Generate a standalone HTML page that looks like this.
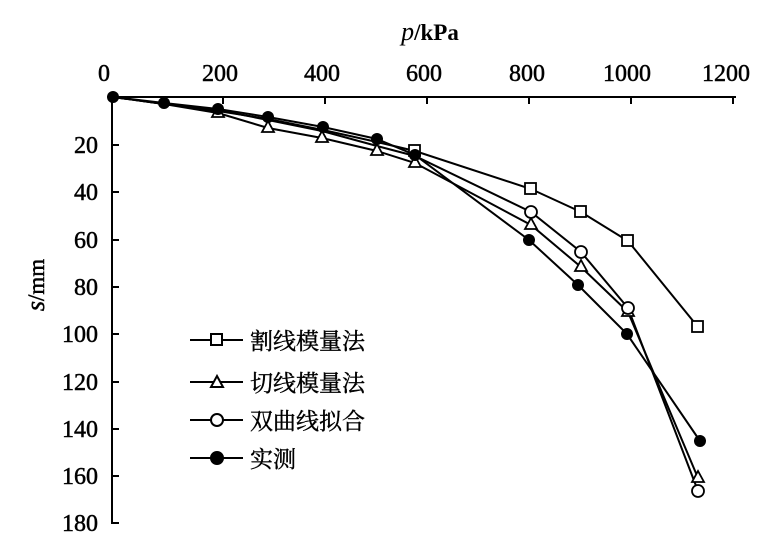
<!DOCTYPE html>
<html><head><meta charset="utf-8"><style>body{margin:0;background:#fff}svg{display:block}</style></head><body>
<svg width="773" height="539" xmlns="http://www.w3.org/2000/svg" font-family="Liberation Serif, serif">
<g stroke="#000" stroke-width="2" fill="none">
<line x1="112" y1="97" x2="736" y2="97"/>
<line x1="112" y1="97" x2="112" y2="524"/>
<line x1="223" y1="97" x2="223" y2="104"/><line x1="325" y1="97" x2="325" y2="104"/><line x1="427" y1="97" x2="427" y2="104"/><line x1="529" y1="97" x2="529" y2="104"/><line x1="631" y1="97" x2="631" y2="104"/><line x1="733" y1="97" x2="733" y2="104"/>
<line x1="112" y1="145" x2="119" y2="145"/><line x1="112" y1="192" x2="119" y2="192"/><line x1="112" y1="240" x2="119" y2="240"/><line x1="112" y1="287" x2="119" y2="287"/><line x1="112" y1="334" x2="119" y2="334"/><line x1="112" y1="382" x2="119" y2="382"/><line x1="112" y1="429" x2="119" y2="429"/><line x1="112" y1="476" x2="119" y2="476"/><line x1="112" y1="523" x2="119" y2="523"/>
</g>
<g font-size="24" text-anchor="middle" stroke="#000" stroke-width="0.5">
<text x="104" y="81">0</text><text x="220" y="81">200</text><text x="322" y="81">400</text><text x="424" y="81">600</text><text x="527" y="81">800</text><text x="627" y="81">1000</text><text x="726" y="81">1200</text>
</g>
<g font-size="24" text-anchor="end" stroke="#000" stroke-width="0.5">
<text x="98" y="153">20</text><text x="98" y="200">40</text><text x="98" y="248">60</text><text x="98" y="295">80</text><text x="98" y="342">100</text><text x="98" y="390">120</text><text x="98" y="437">140</text><text x="98" y="484">160</text><text x="98" y="531">180</text>
</g>
<text x="430" y="40" font-size="23" font-weight="bold" text-anchor="middle"><tspan font-style="italic" font-weight="normal" font-size="26">p</tspan>/kPa</text>
<text transform="translate(44,285) rotate(-90)" font-size="23" text-anchor="middle" stroke="#000" stroke-width="0.5"><tspan font-style="italic" font-size="26">s</tspan>/mm</text>
<g stroke="#000" stroke-width="2" fill="none">
<polyline points="113,97 164,104 218,111 268,119 323,130 377,142 415,151 531,189 581,212 628,241 698,327"/>
<polyline points="113,97 164,104 218,113 268,128 322,138 377,151 415,163 531,225 581,267 628,312 698,478"/>
<polyline points="113,97 164,104 218,110 268,120 322,131 377,146 415,156 531,212 581,252 628,308 698,491"/>
<polyline points="113,97 164,103 218,109 268,117 323,127 377,139 415,155 529,240 578,285 627,334 700,441"/>
</g>
<g stroke="#000" stroke-width="1.8" fill="#fff">
<rect x="409" y="145" width="11" height="11"/><rect x="525" y="183" width="11" height="11"/><rect x="575" y="206" width="11" height="11"/><rect x="622" y="235" width="11" height="11"/><rect x="692" y="321" width="11" height="11"/>
<polygon points="218,106 212,117 224,117"/><polygon points="268,121 262,132 274,132"/><polygon points="322,131 316,142 328,142"/><polygon points="377,144 371,155 383,155"/><polygon points="415,156 409,167 421,167"/><polygon points="531,218 525,229 537,229"/><polygon points="581,260 575,271 587,271"/><polygon points="628,305 622,316 634,316"/><polygon points="698,471 692,482 704,482"/>
<circle cx="531" cy="212" r="6"/><circle cx="581" cy="252" r="6"/><circle cx="628" cy="308" r="6"/><circle cx="698" cy="491" r="6"/>
</g>
<g fill="#000">
<circle cx="113" cy="97" r="6"/><circle cx="164" cy="103" r="6"/><circle cx="218" cy="109" r="6"/><circle cx="268" cy="117" r="6"/><circle cx="323" cy="127" r="6"/><circle cx="377" cy="139" r="6"/><circle cx="415" cy="155" r="6"/><circle cx="529" cy="240" r="6"/><circle cx="578" cy="285" r="6"/><circle cx="627" cy="334" r="6"/><circle cx="700" cy="441" r="6"/>
</g>
<g stroke="#000" stroke-width="2" fill="#fff">
<line x1="190" y1="340" x2="243" y2="340"/><rect x="211" y="334" width="11" height="11"/>
<line x1="190" y1="382" x2="243" y2="382"/><polygon points="217,376 211,387 223,387"/>
<line x1="190" y1="420" x2="243" y2="420"/><circle cx="217" cy="420" r="6"/>
<line x1="190" y1="458" x2="243" y2="458"/><circle cx="217" cy="458" r="6" fill="#000"/>
</g>
<g font-size="23" font-family="Liberation Serif, 'Noto Serif CJK SC', serif" stroke="#000" stroke-width="0.4">
<text x="250" y="349">割线模量法</text><text x="250" y="391">切线模量法</text><text x="250" y="429">双曲线拟合</text><text x="250" y="467">实测</text>
</g>
</svg>
</body></html>
